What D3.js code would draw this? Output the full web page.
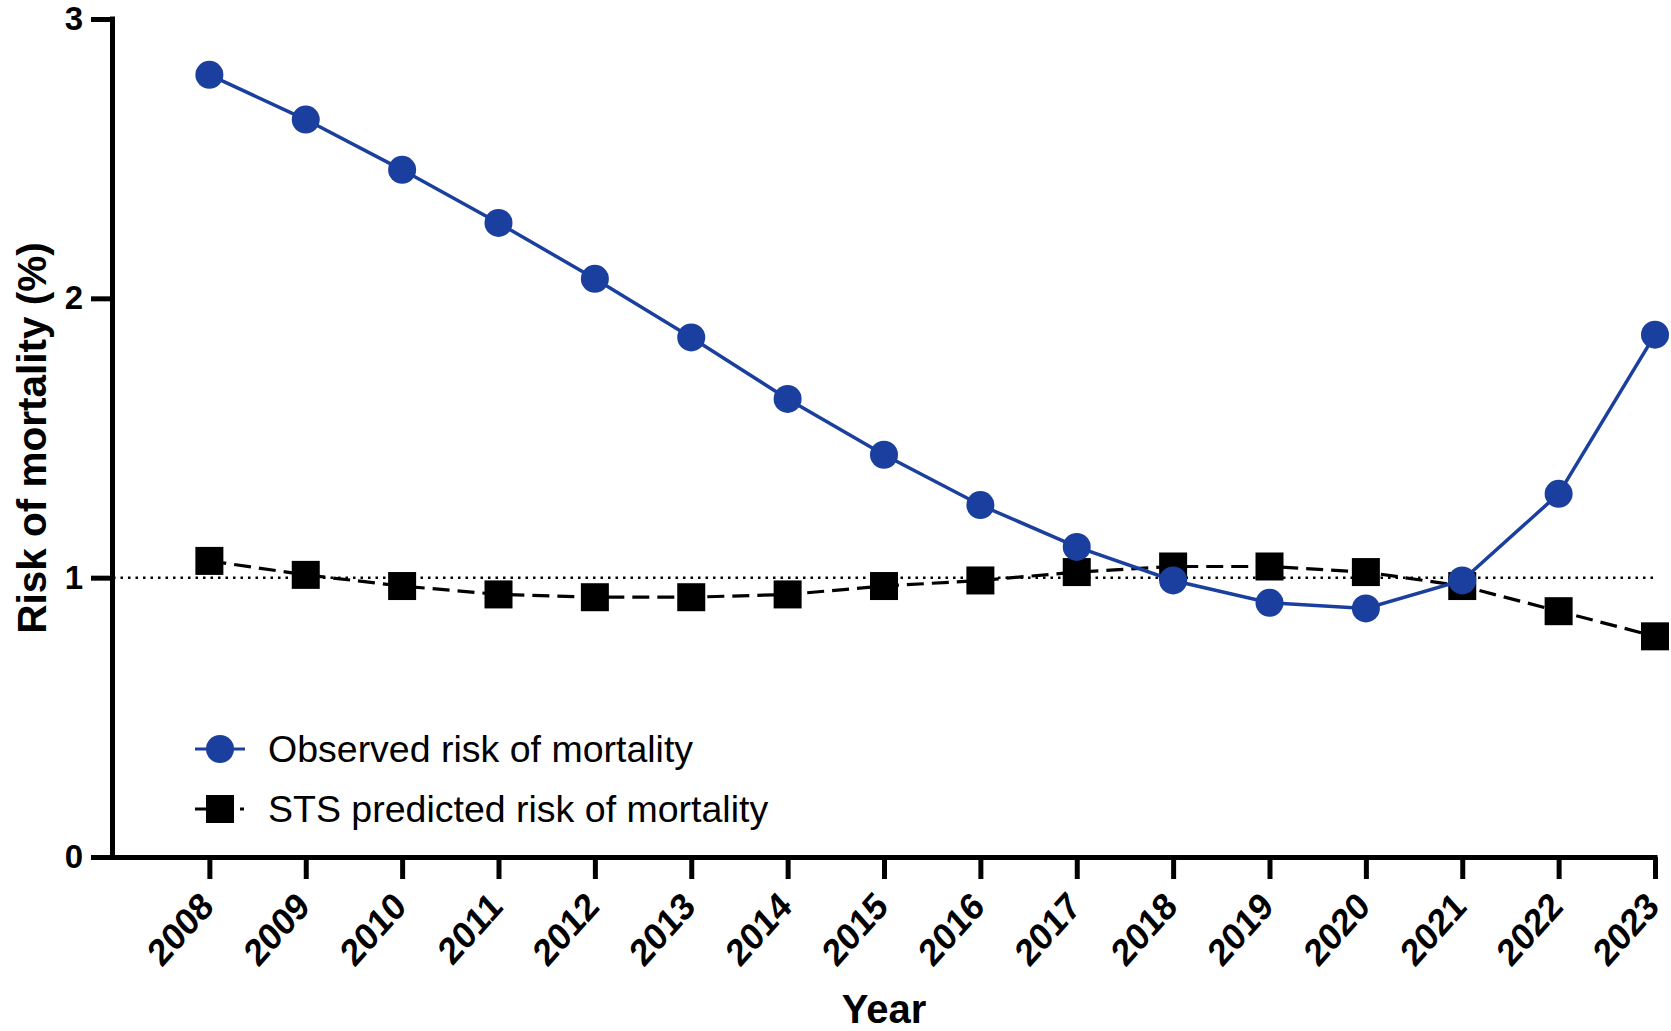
<!DOCTYPE html>
<html>
<head>
<meta charset="utf-8">
<script src="https://cdn.jsdelivr.net/npm/d3@7"></script>
<style>
  html, body { margin: 0; padding: 0; background: #fff; }
  svg { display: block; font-family: "Liberation Sans", Arial, Helvetica, sans-serif; }
</style>
</head>
<body>
<svg id="grafico" width="1671" height="1031"></svg>
<script>
const anos = [2008, 2009, 2010, 2011, 2012, 2013, 2014, 2015, 2016, 2017, 2018, 2019, 2020, 2021, 2022, 2023];
const observado = [2.80, 2.64, 2.46, 2.27, 2.07, 1.86, 1.64, 1.44, 1.26, 1.11, 0.99, 0.91, 0.89, 0.99, 1.30, 1.87];
const previstoSTS = [1.06, 1.01, 0.97, 0.94, 0.93, 0.93, 0.94, 0.97, 0.99, 1.02, 1.04, 1.04, 1.02, 0.97, 0.88, 0.79];
const ticksY = [0, 1, 2, 3];
const linhaReferencia = 1;
const rotulosLegenda = ["Observed risk of mortality", "STS predicted risk of mortality"];

const AZUL = "#1a3f9e";
const W = 1671;
const H = 1031;
const margin = { top: 19, right: 16, bottom: 174, left: 113 };
const plotW = W - margin.left - margin.right;
const plotH = H - margin.top - margin.bottom;

const x = d3.scaleLinear().domain([2007, 2023]).range([0, plotW]);
const y = d3.scaleLinear().domain([0, 3]).range([plotH, 0]);

const svg = d3.select("#grafico");
const g = svg.append("g").attr("transform", `translate(${margin.left},${margin.top})`);

// linha pontilhada em 1%
g.append("line")
  .attr("x1", x(2007)).attr("x2", x(2023))
  .attr("y1", y(linhaReferencia)).attr("y2", y(linhaReferencia))
  .attr("stroke", "#000").attr("stroke-width", 2.5).attr("stroke-dasharray", "2.5,5");

const linha = d3.line().x((d, i) => x(anos[i])).y((d) => y(d));

// série STS (tracejada, quadrados)
g.append("path")
  .datum(previstoSTS)
  .attr("d", linha)
  .attr("fill", "none").attr("stroke", "#000").attr("stroke-width", 3.2)
  .attr("stroke-dasharray", "17,8");

const lado = 28;
g.selectAll("rect.sts")
  .data(previstoSTS)
  .join("rect")
  .attr("class", "sts")
  .attr("x", (d, i) => x(anos[i]) - lado / 2)
  .attr("y", (d) => y(d) - lado / 2)
  .attr("width", lado).attr("height", lado)
  .attr("fill", "#000");

// série observada (azul, círculos)
g.append("path")
  .datum(observado)
  .attr("d", linha)
  .attr("fill", "none").attr("stroke", AZUL).attr("stroke-width", 3.5);

g.selectAll("circle.obs")
  .data(observado)
  .join("circle")
  .attr("class", "obs")
  .attr("cx", (d, i) => x(anos[i]))
  .attr("cy", (d) => y(d))
  .attr("r", 14)
  .attr("fill", AZUL);

// eixos
g.append("g")
  .attr("transform", `translate(0,${plotH})`)
  .call(d3.axisBottom(x).tickValues(anos).tickFormat(d3.format("d")).tickSize(22).tickSizeOuter(0))
  .call((sel) => sel.selectAll("line,.domain").attr("stroke", "#000").attr("stroke-width", 5))
  .call((sel) => sel.select(".domain").attr("d", `M${x(2007) - 2.5},0.5H${x(2023) + 2.5}`))
  // rótulos girados (a figura original é um pouco esticada na vertical)
  .call((sel) => sel.selectAll("text")
    .attr("fill", "#000").attr("font-size", "34px").attr("font-weight", "700")
    .attr("text-anchor", "end")
    .attr("x", 0).attr("y", 0).attr("dy", "0.35em")
    .attr("transform", "translate(-3,42) scale(1,1.12) rotate(-45)"));

g.append("g")
  .call(d3.axisLeft(y).tickValues(ticksY).tickFormat(d3.format("d")).tickSize(22).tickPadding(8).tickSizeOuter(0))
  .call((sel) => sel.selectAll("line,.domain").attr("stroke", "#000").attr("stroke-width", 5))
  .call((sel) => sel.select(".domain").attr("d", `M-0.5,${y(3) - 2.5}V${y(0) + 2.5}`))
  .call((sel) => sel.selectAll("text").attr("fill", "#000").attr("font-size", "33px").attr("font-weight", "700"));

// títulos dos eixos
svg.append("text")
  .attr("x", margin.left + x(2015)).attr("y", 1023)
  .attr("text-anchor", "middle")
  .attr("font-size", "40px").attr("font-weight", "700")
  .text("Year");

svg.append("text")
  .attr("transform", `translate(46,${margin.top + y(1.5)}) rotate(-90)`)
  .attr("text-anchor", "middle")
  .attr("font-size", "40.5px").attr("font-weight", "700")
  .text("Risk of mortality (%)");

// legenda
const legenda = svg.append("g").attr("transform", "translate(195,749)");
const itens = legenda.selectAll("g").data(rotulosLegenda).join("g")
  .attr("transform", (d, i) => `translate(0,${i * 60})`);

itens.append("line")
  .attr("x1", 0).attr("x2", 50).attr("y1", 0).attr("y2", 0)
  .attr("stroke", (d, i) => (i === 0 ? AZUL : "#000"))
  .attr("stroke-width", 3.2)
  .attr("stroke-dasharray", (d, i) => (i === 0 ? null : "11,34,4"));

itens.each(function (d, i) {
  const el = d3.select(this);
  if (i === 0) el.append("circle").attr("cx", 25).attr("cy", 0).attr("r", 14).attr("fill", AZUL);
  else el.append("rect").attr("x", 11).attr("y", -14).attr("width", 28).attr("height", 28).attr("fill", "#000");
});

itens.append("text")
  .attr("x", 73).attr("y", 0).attr("dy", "0.35em")
  .attr("font-size", "37.5px")
  .attr("fill", "#000")
  .text((d) => d);
</script>
</body>
</html>
